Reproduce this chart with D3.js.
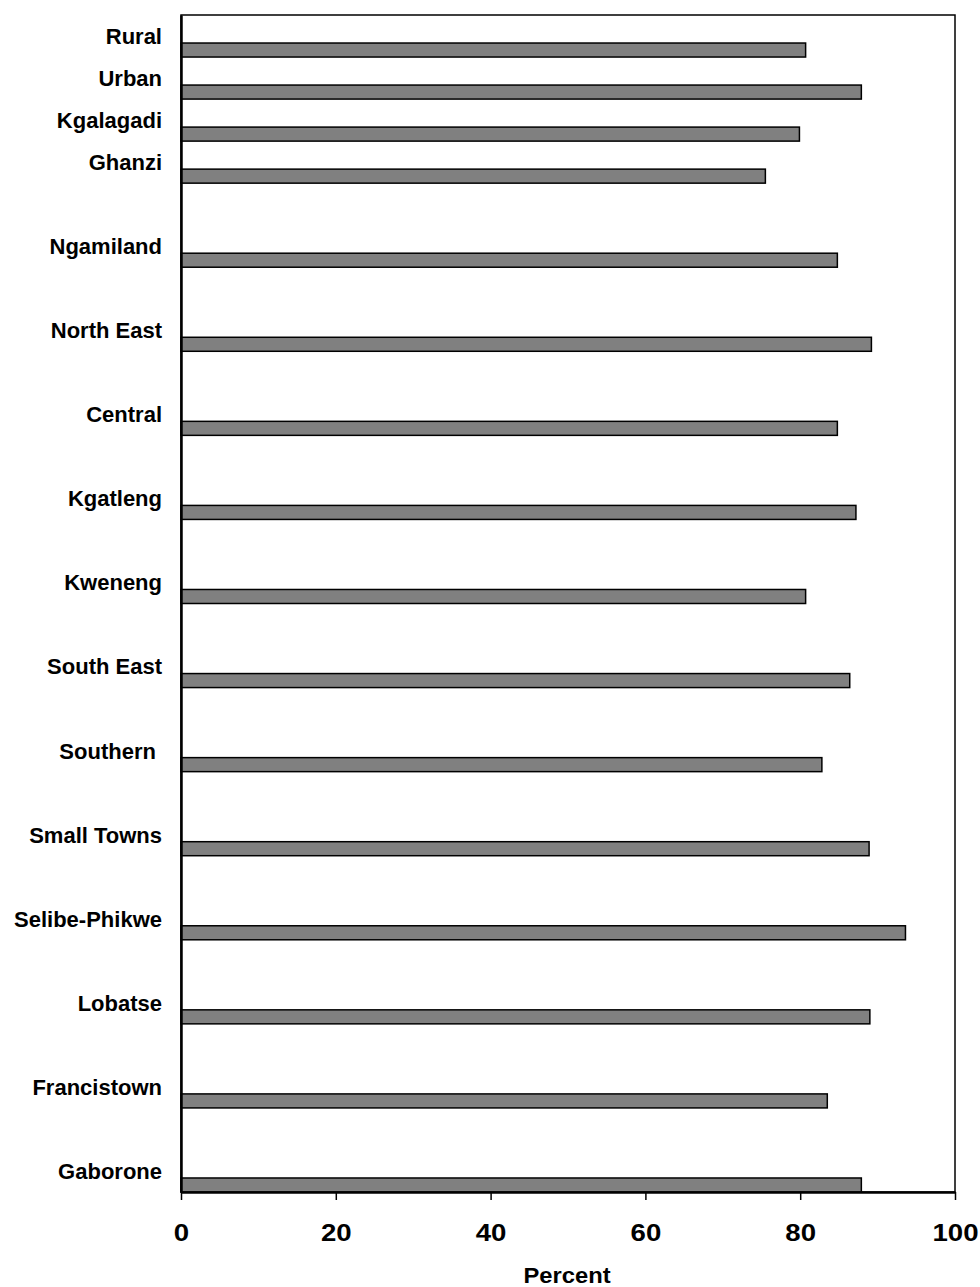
<!DOCTYPE html>
<html>
<head>
<meta charset="utf-8">
<script src="https://cdn.jsdelivr.net/npm/d3@7"></script>
<style>
  body { margin: 0; background: #fff; }
  svg text { font-family: "Liberation Sans", Arial, sans-serif; font-weight: bold; fill: #000; white-space: pre; }
</style>
</head>
<body>
<svg id="chart" width="980" height="1287"></svg>
<script>
// categories top to bottom, as printed
var categories = ["Rural", "Urban", "Kgalagadi", "Ghanzi", "Ngamiland", "North East",
  "Central", "Kgatleng", "Kweneng", "South East", "Southern ", "Small Towns",
  "Selibe-Phikwe", "Lobatse", "Francistown", "Gaborone"];
var values = [80.7, 87.9, 79.9, 75.5, 84.8, 89.2, 84.8, 87.2, 80.7, 86.4, 82.8, 88.9,
  93.6, 89.0, 83.5, 87.9];
var xTicks = [0, 20, 40, 60, 80, 100];
var xTitle = "Percent";
// from this category on, an empty row sits above each one
var spacedFrom = 4;

var
  margin = {top: 15, right: 25, bottom: 95, left: 181},
  svg = d3.select('#chart'),
  width = +svg.attr('width') - margin.left - margin.right,
  height = +svg.attr('height') - margin.top - margin.bottom,
  g = svg.append('g').attr('transform', 'translate(' + margin.left + ',' + margin.top + ')')
  ;

var rows = [];
categories.forEach(function(c, i){
  if (i >= spacedFrom) rows.push('gap-' + i);
  rows.push(c);
});

var data = categories.map(function(c, i){ return {name: c, value: values[i]}; });

var xScale = d3.scaleLinear().domain([0, 100]).range([0, width]);
var yScale = d3.scaleBand().domain(rows).range([0, height]).padding(0);
var bw = yScale.bandwidth();

// frame
g.append('rect')
  .attr('x', 0).attr('y', 0)
  .attr('width', width).attr('height', height)
  .attr('fill', 'none')
  .attr('stroke', '#000')
  .attr('stroke-width', 1.5);

g.selectAll('.bar')
  .data(data)
  .enter().append('rect')
  .attr('class', 'bar')
  .attr('x', xScale(0))
  .attr('y', function(d){ return yScale(d.name) + bw * 2 / 3; })
  .attr('width', function(d){ return xScale(d.value) - xScale(0); })
  .attr('height', bw / 3)
  .attr('fill', '#808080')
  .attr('stroke', '#000')
  .attr('stroke-width', 1.5);

var xAxis = g.append('g')
  .attr('class', 'axis axis--x')
  .attr('transform', 'translate(0,' + height + ')')
  .call(d3.axisBottom(xScale).tickValues(xTicks).tickSize(8).tickPadding(24).tickSizeOuter(0));
xAxis.select('.domain').attr('stroke-width', 2.5);
xAxis.selectAll('.tick line').attr('stroke-width', 1.5);
xAxis.selectAll('.tick text').attr('font-size', 24).attr('font-family', null)
  .attr('transform', 'scale(1.15,1)');

var yAxis = g.append('g')
  .attr('class', 'axis axis--y')
  .call(d3.axisLeft(yScale).tickValues(categories).tickSize(0).tickPadding(19));
yAxis.select('.domain').attr('stroke-width', 2.5);
yAxis.selectAll('.tick text').attr('font-size', 22).attr('font-family', null)
  .attr('dy', '0.36em');

g.append('text')
  .attr('transform', 'translate(' + (width / 2 - 1) + ',' + (height + 91) + ') scale(1.08,1)')
  .attr('text-anchor', 'middle')
  .attr('font-size', 22)
  .text(xTitle);
</script>
</body>
</html>
